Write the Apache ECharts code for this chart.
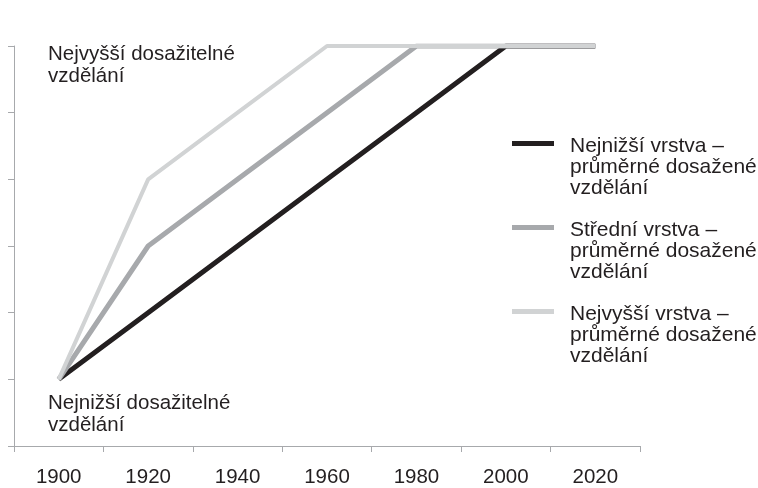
<!DOCTYPE html>
<html>
<head>
<meta charset="utf-8">
<script src="https://cdn.jsdelivr.net/npm/echarts@6/dist/echarts.min.js"></script>
<style>
  html, body { margin: 0; padding: 0; background: #fff; }
  #main { width: 758px; height: 488px; }
</style>
</head>
<body>
<div id="main"></div>
<script>
var years = ["1900", "1920", "1940", "1960", "1980", "2000", "2020"];
var lowLayer = [1, 2, 3, 4, 5, 6, 6];
var midLayer = [1, 3, 4, 5, 6, 6, 6];
var topLayer = [1, 4, 5, 6, 6, 6, 6];
var seriesNames = [
  "Nejnižší vrstva –\nprůměrné dosažené\nvzdělání",
  "Střední vrstva –\nprůměrné dosažené\nvzdělání",
  "Nejvyšší vrstva –\nprůměrné dosažené\nvzdělání"
];

var myChart = echarts.init(document.getElementById("main"));
var textColor = "#231f20";
var font = "Liberation Sans, Arial, sans-serif";

// legend icon: bar near the top of a tall invisible box so it sits by the first text line
var legendIcon = "path://M0,0L42,0M0,5H42V10H0ZM0,63L42,63";

option = {
  animation: false,
  textStyle: { fontFamily: font },
  grid: { left: 14, right: 118, top: 46, bottom: 39 },
  legend: {
    orient: "vertical",
    left: 512,
    top: 136,
    padding: 0,
    icon: legendIcon,
    itemWidth: 42,
    itemHeight: 63,
    itemGap: 21,
    itemStyle: { borderWidth: 0 },
    textStyle: { fontSize: 21, lineHeight: 21, color: textColor, fontFamily: font, padding: [0, 0, 0, 11] },
    data: seriesNames
  },
  xAxis: {
    type: "category",
    data: years,
    boundaryGap: true,
    axisLine: { lineStyle: { color: "#a7a9ac", width: 1 } },
    axisTick: { show: true, length: 6, lineStyle: { color: "#a7a9ac" } },
    axisLabel: { fontSize: 20.5, color: textColor, margin: 21, fontFamily: font }
  },
  yAxis: {
    type: "value",
    min: 0,
    max: 6,
    interval: 1,
    splitLine: { show: false },
    axisLine: { show: true, lineStyle: { color: "#a7a9ac", width: 1 } },
    axisTick: { show: true, length: 6, lineStyle: { color: "#a7a9ac" } },
    axisLabel: { show: false }
  },
  graphic: [
    {
      type: "text",
      left: 48,
      top: 43,
      style: { text: "Nejvyšší dosažitelné\nvzdělání", fontSize: 20.5, lineHeight: 22, fill: textColor, fontFamily: font }
    },
    {
      type: "text",
      left: 48,
      top: 392,
      style: { text: "Nejnižší dosažitelné\nvzdělání", fontSize: 20.5, lineHeight: 22.5, fill: textColor, fontFamily: font }
    }
  ],
  series: [
    {
      name: seriesNames[0],
      type: "line",
      data: lowLayer,
      symbol: "none",
      z: 3,
      lineStyle: { color: "#231f20", width: 5 },
      itemStyle: { color: "#231f20" }
    },
    {
      name: seriesNames[1],
      type: "line",
      data: midLayer,
      symbol: "none",
      z: 4,
      lineStyle: { color: "#a7a9ac", width: 5 },
      itemStyle: { color: "#a7a9ac" }
    },
    {
      name: seriesNames[2],
      type: "line",
      data: topLayer,
      symbol: "none",
      z: 5,
      lineStyle: { color: "#d1d3d4", width: 4 },
      itemStyle: { color: "#d1d3d4" }
    }
  ]
};

myChart.setOption(option);
</script>
</body>
</html>
